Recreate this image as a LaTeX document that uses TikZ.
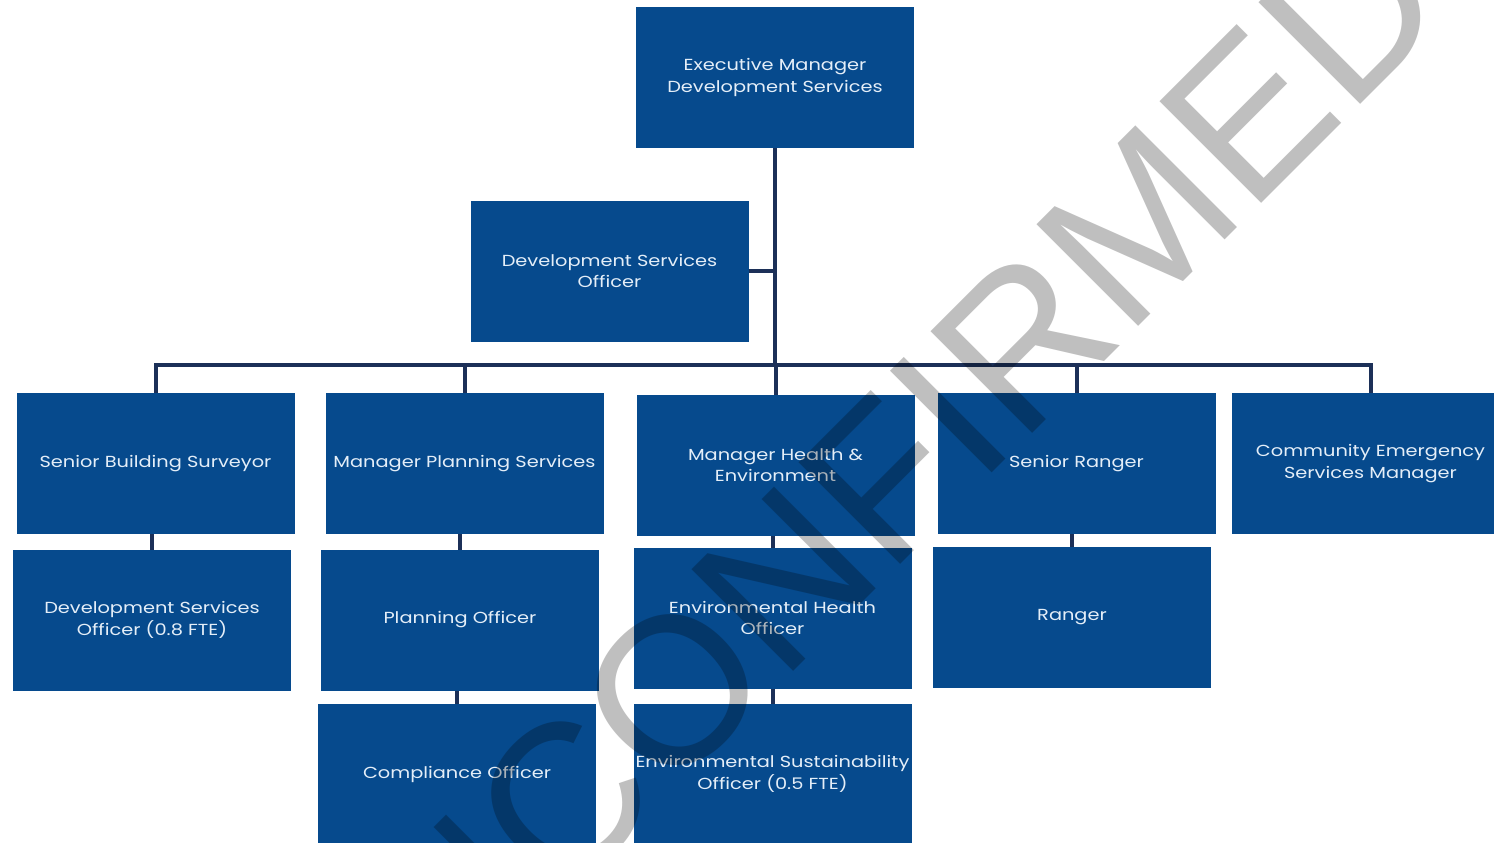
\documentclass[tikz,border=0pt]{standalone}
\usepackage{fontspec}
\newfontfamily\boxfont[FakeStretch=1.21]{Poppins}
\newfontfamily\wmfont{Liberation Sans}
\definecolor{boxblue}{RGB}{6,74,141}
\definecolor{boxtext}{RGB}{228,238,248}
\definecolor{linecol}{RGB}{28,48,88}
\tikzset{
  box/.style={fill=boxblue, minimum width=278, minimum height=141, inner sep=0pt, outer sep=0pt,
    text=boxtext, align=center, font=\boxfont\fontsize{16}{21.5}\selectfont},
  conn/.style={draw=linecol, line width=4pt, line join=miter},
  watermark/.style={text=black, opacity=0.25, rotate=45, anchor=base, inner sep=0pt,
    font=\wmfont\fontsize{209}{209}\selectfont}
}
\begin{document}
\begin{tikzpicture}[x=1pt,y=-1pt]
\useasboundingbox (0,0) rectangle (1494,843);
\clip (0,0) rectangle (1494,843);
\fill[white] (0,0) rectangle (1494,843);
% boxes
\node[box] (exec) at (775,77.5) {Executive Manager\\Development Services};
\node[box] (dso) at (609.5,271) {Development Services\\Officer};
\node[box] (sbs) at (155.5,463.5) {Senior Building Surveyor};
\node[box] (mps) at (464.5,463.5) {Manager Planning Services};
\node[box] (mhe) at (775.5,465) {Manager Health \&\\Environment};
\node[box] (sr) at (1076.5,463.5) {Senior Ranger};
\node[box] (cesm) at (1370.5,463.5) {Community Emergency\\Services Manager};
\node[box] (dso8) at (152,620) {Development Services\\Officer (0.8 FTE)};
\node[box] (po) at (460,620) {Planning Officer};
\node[box] (eho) at (772.5,618) {Environmental Health\\Officer};
\node[box] (ranger) at (1072,617) {Ranger};
\node[box] (co) at (457,774) {Compliance Officer};
\node[box] (eso) at (772.5,774) {Environmental Sustainability\\Officer (0.5 FTE)};
% connectors
\coordinate (bus) at (775,365);
\draw[conn] (exec.south) -- (bus);
\draw[conn] (dso.east) -- (dso.east -| exec.south);
\draw[conn] (sbs.north) |- (bus) -| (cesm.north);
\draw[conn] (mps.north) -- (mps.north |- bus);
\draw[conn] (mhe.north) -- (mhe.north |- bus);
\draw[conn] (sr.north) -- (sr.north |- bus);
\draw[conn] (dso8.north |- sbs.south) -- (dso8.north);
\draw[conn] (po.north |- mps.south) -- (po.north);
\draw[conn] (eho.north |- mhe.south) -- (eho.north);
\draw[conn] (ranger.north |- sr.south) -- (ranger.north);
\draw[conn] (co.north |- po.south) -- (co.north);
\draw[conn] (eso.north |- eho.south) -- (eso.north);
% watermark
\node[watermark] (wm) at (901,564) {UNCONFIRMED};
\end{tikzpicture}
\end{document}
